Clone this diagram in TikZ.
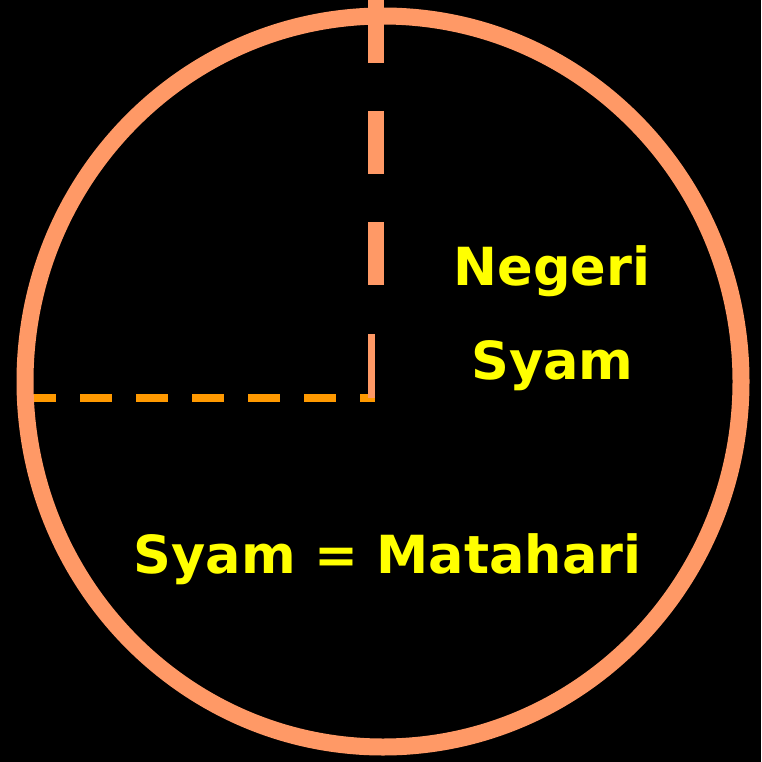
\documentclass[tikz,border=0pt]{standalone}
\usepackage{fontspec}
\setmainfont{DejaVu Sans}
\usepackage{tikz}
\usetikzlibrary{positioning}
\definecolor{rim}{HTML}{FF9966}
\definecolor{axis}{HTML}{FF9900}
\definecolor{lbl}{HTML}{FFFF00}
\tikzset{
  ring/.style  = {draw=rim, line width=17},
  vdash/.style = {draw=rim, line width=16, dash pattern=on 63 off 48},
  vthin/.style = {draw=rim, line width=7},
  hdash/.style = {draw=axis, line width=8, dash pattern=on 32 off 24},
  word/.style  = {text=lbl, font=\bfseries\fontsize{52.5}{60}\selectfont,
                  anchor=base, inner sep=0pt}
}
\begin{document}
\begin{tikzpicture}[x=1pt,y=-1pt]
  \fill[black] (0,0) rectangle (761,762);
  \useasboundingbox (0,0) rectangle (761,762);
  % ---- guide lines ----
  \coordinate (top) at (376,0);
  \coordinate (brk) at (376,285);
  \coordinate (t1) at (371.5,334);
  \coordinate (t2) at (371.5,398);
  \coordinate (west) at (24,398);
  \coordinate (corner) at (375,398);
  \draw[hdash] (west) -- (corner);
  \draw[vdash] (top) -- (brk);
  \draw[vthin] (t1) -- (t2);
  % ---- rim ----
  \coordinate (c) at (383,381.5);
  \draw[ring] (c) ellipse [x radius=358, y radius=365.5];
  % ---- labels ----
  \node[word] (neg) at (552,285) {Negeri};
  \node[word] (sy) at (552.5,379) {Syam};
  \node[word] (eq) at (387.5,573) {Syam = Matahari};
\end{tikzpicture}
\end{document}
